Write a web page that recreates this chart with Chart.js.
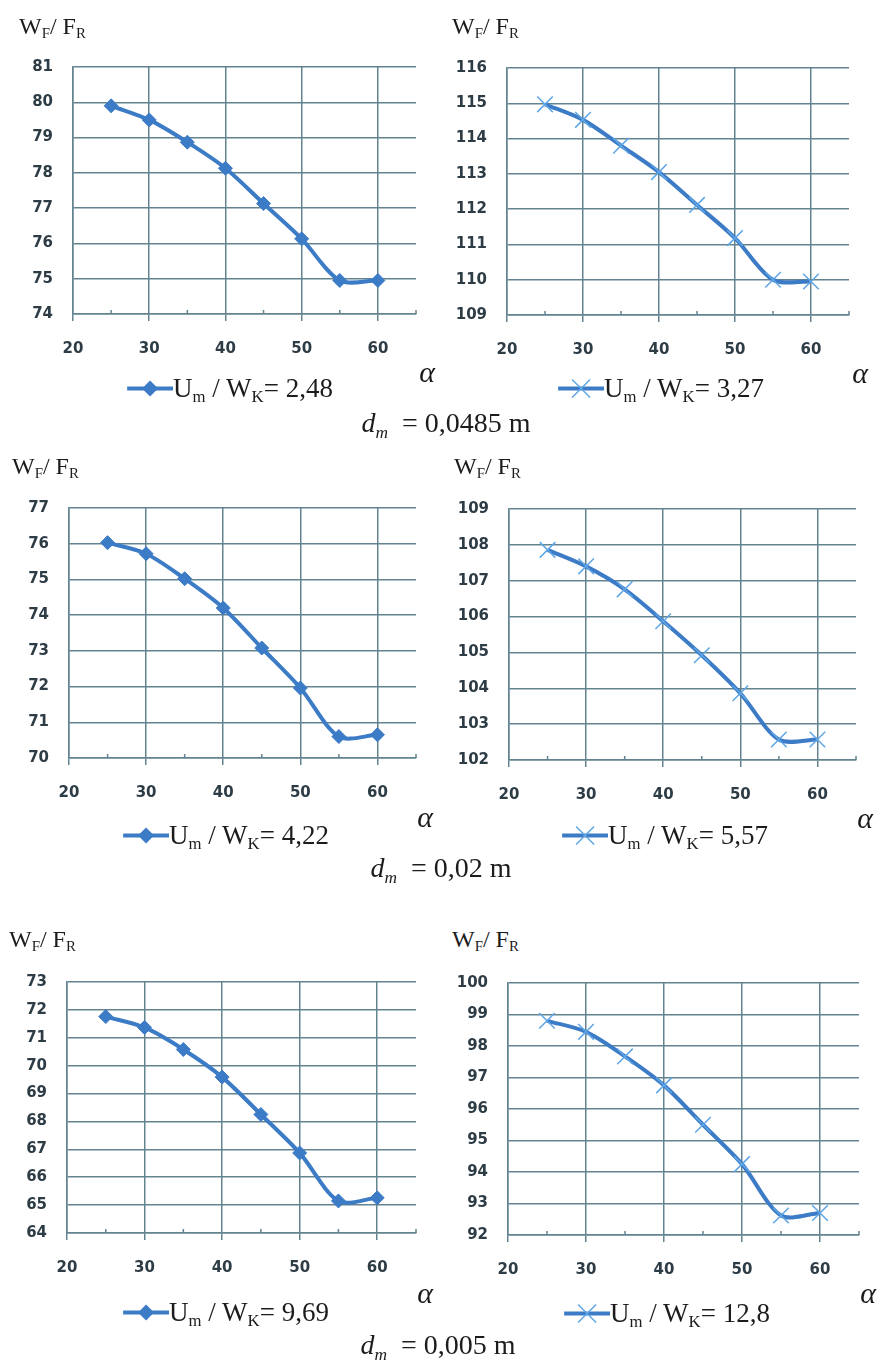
<!DOCTYPE html>
<html>
<head>
<meta charset="utf-8">
<script src="https://cdn.jsdelivr.net/npm/chart.js@4.4.1/dist/chart.umd.min.js"></script>
<style>
body { margin: 0; background: #fff; width: 884px; height: 1366px; position: relative; overflow: hidden;
       font-family: "Liberation Serif", "Times New Roman", serif; color: #1c1c1c; }
canvas { position: absolute; }
sub { font-size: 0.62em; vertical-align: baseline; position: relative; top: 0.3em; }
.yt { position: absolute; font-size: 24px; line-height: 1; white-space: nowrap; transform: translateY(-50%); }
.al { position: absolute; font-style: italic; font-size: 30px; line-height: 1; transform: translate(-50%, -50%); }
.lg { position: absolute; font-size: 27px; line-height: 1; white-space: nowrap; display: flex; align-items: center; transform: translate(-50%, -50%); }
.lg span { display: inline-block; }
.cap { position: absolute; font-size: 28px; line-height: 1; white-space: nowrap; transform: translate(-50%, -50%); }
.cap sub { font-style: italic; top: 0.35em; }
</style>
</head>
<body>
<script>
// angle alpha (x axis)
const alpha = [25, 30, 35, 40, 45, 50, 55, 60];
const xTicks = [20, 30, 40, 50, 60];

// W_F / F_R for each Um/WK ratio
const wf248 = [79.9, 79.5, 78.87, 78.13, 77.13, 76.13, 74.95, 74.95];
const wf327 = [114.97, 114.53, 113.8, 113.05, 112.12, 111.18, 110.0, 109.95];
const wf422 = [76.03, 75.72, 75.02, 74.2, 73.08, 71.96, 70.6, 70.65];
const wf557 = [107.86, 107.4, 106.76, 105.87, 104.92, 103.86, 102.57, 102.57];
const wf969 = [71.76, 71.37, 70.58, 69.59, 68.25, 66.87, 65.15, 65.26];
const wf128 = [98.8, 98.45, 97.67, 96.75, 95.5, 94.25, 92.62, 92.7];

const yMin = [74, 109, 70, 102, 64, 92];
const yMax = [81, 116, 77, 109, 73, 100];
const ratios = ['2,48', '3,27', '4,22', '5,57', '9,69', '12,8'];
const diameters = ['0,0485', '0,02', '0,005'];

const series = [wf248, wf327, wf422, wf557, wf969, wf128];

// plot boxes (left, top, right, bottom) in page pixels
const plots = [
  { l: 73, t: 52, r: 432, b: 314 },
  { l: 507, t: 53, r: 865, b: 315 },
  { l: 69, t: 493, r: 432, b: 758 },
  { l: 509, t: 494, r: 872, b: 760 },
  { l: 67, t: 967, r: 432, b: 1233 },
  { l: 508, t: 968, r: 875, b: 1235 }
];
const yTitlePos = [[19, 26], [452, 26], [12, 466], [454, 466], [9, 939], [452, 939]];
const alphaPos = [[427, 372], [860, 373], [425, 817], [865, 818], [425, 1293], [868, 1293]];
const legendPos = [[230, 388], [661, 388], [226, 835], [665, 835], [226, 1312], [667, 1313]];
const capPos = [[446, 423], [441, 868], [438, 1345]];

const lineBlue = '#3c7bc6';
const xBlue = '#5fa6e6';
const gridCol = '#62838f';
const tickCol = '#2e3c46';
const none = 'rgba(0,0,0,0)';

// small upward minor ticks on the x axis
const minorTicks = {
  id: 'minorTicks',
  beforeDatasetsDraw(chart) {
    const sx = chart.scales.x, ctx = chart.ctx, yb = chart.chartArea.bottom;
    ctx.save();
    ctx.strokeStyle = gridCol;
    ctx.lineWidth = 1.5;
    [25, 35, 45, 55, 65].forEach(v => {
      const px = sx.getPixelForValue(v);
      ctx.beginPath();
      ctx.moveTo(px, yb);
      ctx.lineTo(px, yb - 4);
      ctx.stroke();
    });
    ctx.restore();
  }
};

function makeChart(i) {
  const p = plots[i];
  const padL = 72, padT = 14, padB = 52, padR = 3;
  const c = document.createElement('canvas');
  c.width = p.r - p.l + padL + padR;
  c.height = p.b - p.t + padT + padB;
  c.style.left = (p.l - padL) + 'px';
  c.style.top = (p.t - padT) + 'px';
  document.body.appendChild(c);

  const cross = i % 2 === 1;
  const tickFont = { family: 'DejaVu Sans', size: 15, weight: 'bold' };

  new Chart(c, {
    type: 'scatter',
    data: {
      datasets: [{
        data: alpha.map((a, k) => ({ x: a, y: series[i][k] })),
        showLine: true,
        borderColor: lineBlue,
        borderWidth: 4,
        tension: 0.3,
        pointStyle: cross ? 'crossRot' : 'rectRot',
        pointRadius: cross ? 11 : 7,
        pointBorderColor: cross ? xBlue : lineBlue,
        pointBackgroundColor: lineBlue,
        pointBorderWidth: cross ? 1.5 : 1
      }]
    },
    options: {
      responsive: false,
      animation: false,
      events: [],
      layout: { padding: { top: padT, right: padR } },
      plugins: { legend: { display: false }, tooltip: { enabled: false } },
      scales: {
        x: {
          type: 'linear',
          min: 20,
          max: 65,
          afterFit: s => { s.height = padB; },
          afterBuildTicks: s => { s.ticks = xTicks.concat([65]).map(v => ({ value: v })); },
          grid: {
            color: ctx => (ctx.tick && ctx.tick.value <= 60 ? gridCol : none),
            tickColor: ctx => (ctx.tick && ctx.tick.value <= 60 ? gridCol : none),
            lineWidth: 1.5,
            tickLength: 7
          },
          border: { color: gridCol, width: 1.5 },
          ticks: {
            padding: 19,
            autoSkip: false,
            maxRotation: 0,
            font: tickFont,
            color: tickCol,
            callback: v => (v <= 60 ? v : '')
          }
        },
        y: {
          min: yMin[i],
          max: yMax[i],
          afterFit: s => { s.width = padL; },
          grid: { color: gridCol, lineWidth: 1.5, drawTicks: false },
          border: { color: gridCol, width: 1.5 },
          ticks: { stepSize: 1, padding: 20, font: tickFont, color: tickCol }
        }
      }
    },
    plugins: [minorTicks]
  });

  // axis titles and legend as real text
  const yt = document.createElement('div');
  yt.className = 'yt';
  yt.innerHTML = 'W<sub>F</sub>/ F<sub>R</sub>';
  yt.style.left = yTitlePos[i][0] + 'px';
  yt.style.top = yTitlePos[i][1] + 'px';
  document.body.appendChild(yt);

  const al = document.createElement('div');
  al.className = 'al';
  al.textContent = 'α';
  al.style.left = alphaPos[i][0] + 'px';
  al.style.top = alphaPos[i][1] + 'px';
  document.body.appendChild(al);

  const marker = cross
    ? '<line x1="14" y1="1" x2="32" y2="19" stroke="' + xBlue + '" stroke-width="1.5"/><line x1="14" y1="19" x2="32" y2="1" stroke="' + xBlue + '" stroke-width="1.5"/>'
    : '<polygon points="23,2 31,10 23,18 15,10" fill="' + lineBlue + '"/>';
  const lg = document.createElement('div');
  lg.className = 'lg';
  lg.innerHTML = '<svg width="46" height="20" viewBox="0 0 46 20"><line x1="0" y1="10" x2="46" y2="10" stroke="' + lineBlue +
    '" stroke-width="4"/>' + marker + '</svg><span>U<sub>m</sub> / W<sub>K</sub>= ' + ratios[i] + '</span>';
  lg.style.left = legendPos[i][0] + 'px';
  lg.style.top = legendPos[i][1] + 'px';
  document.body.appendChild(lg);
}

for (let i = 0; i < 6; i++) makeChart(i);

diameters.forEach((d, j) => {
  const cap = document.createElement('div');
  cap.className = 'cap';
  cap.innerHTML = '<i>d</i><sub>m</sub> &nbsp;= ' + d + ' m';
  cap.style.left = capPos[j][0] + 'px';
  cap.style.top = capPos[j][1] + 'px';
  document.body.appendChild(cap);
});
</script>
</body>
</html>
